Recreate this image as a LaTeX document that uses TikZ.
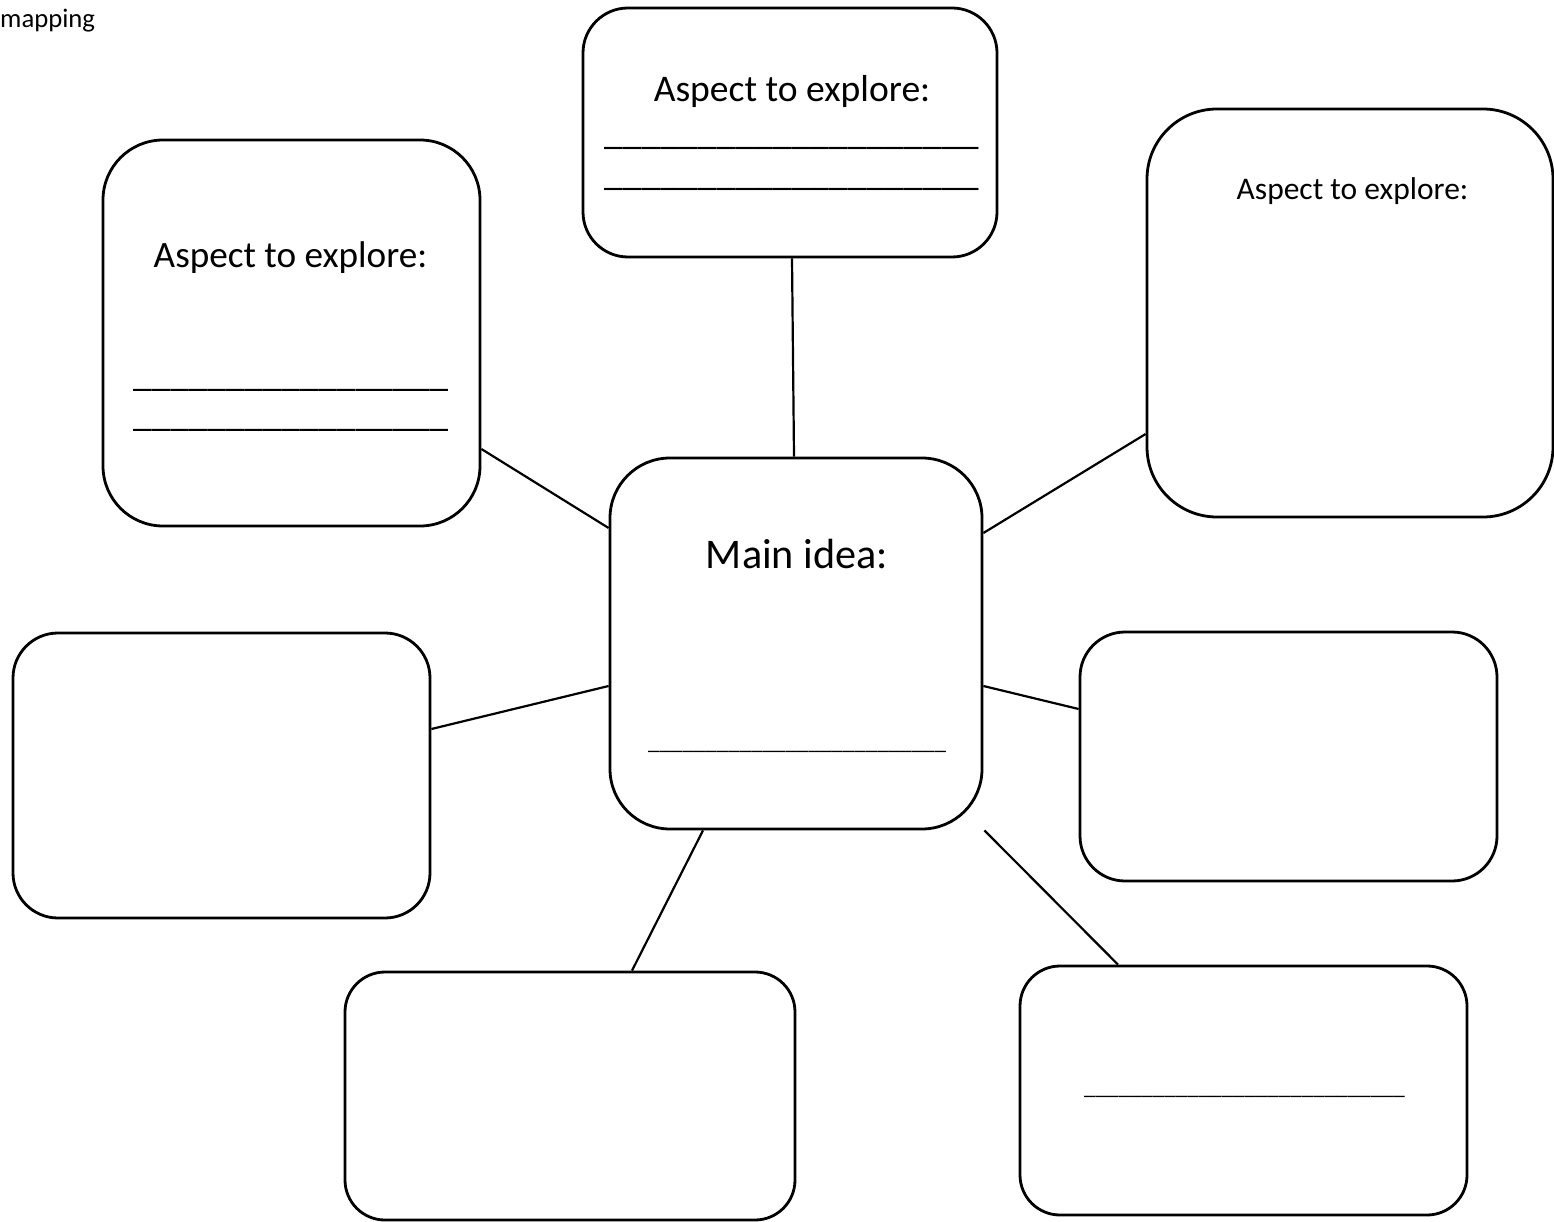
\documentclass[tikz,border=0pt]{standalone}
\usepackage{fontspec}
\setmainfont{Carlito}
\begin{document}
\begin{tikzpicture}[x=1pt,y=-1pt,
  bubble/.style={draw=black,line width=2.8pt,fill=white,inner sep=0pt,
    rectangle},
  link/.style={draw=black,line width=2.2pt},
  txt/.style={inner sep=0pt,anchor=base,text=black},
  txtw/.style={inner sep=0pt,anchor=base west,text=black}]
\fill[white] (0,0) rectangle (1554,1222);
\useasboundingbox (0,0) rectangle (1554,1222);
% boxes
\node[bubble,minimum width=414pt,minimum height=249pt,rounded corners=45pt] (top) at (790,132.5) {};
\node[bubble,minimum width=377pt,minimum height=386pt,rounded corners=60pt] (tl) at (291.5,333) {};
\node[bubble,minimum width=406pt,minimum height=408pt,rounded corners=70pt] (tr) at (1350,313) {};
\node[bubble,minimum width=372pt,minimum height=371pt,rounded corners=60pt] (center) at (796,643.5) {};
\node[bubble,minimum width=417pt,minimum height=285pt,rounded corners=45pt] (left) at (221.5,775.5) {};
\node[bubble,minimum width=417pt,minimum height=249pt,rounded corners=45pt] (right) at (1288.5,756.5) {};
\node[bubble,minimum width=450pt,minimum height=248pt,rounded corners=40pt] (bl) at (570,1096) {};
\node[bubble,minimum width=447pt,minimum height=249pt,rounded corners=40pt] (br) at (1243.5,1090.5) {};
% connectors
\draw[link] ([xshift=2pt]top.south) -- ([xshift=-2pt]center.north);
\draw[link] ([yshift=-116pt]tl.east) -- ([yshift=115.5pt]center.west);
\draw[link] ([yshift=-121pt]tr.west) -- ([yshift=110.5pt]center.east);
\draw[link] ([yshift=46.5pt]left.east) -- ([yshift=-42.5pt]center.west);
\draw[link] ([yshift=47.5pt]right.west) -- ([yshift=-42.5pt]center.east);
\draw[link] ([xshift=62pt]bl.north) -- ([xshift=-93pt]center.south);
\coordinate (cse) at ([xshift=1pt]center.south east);
\draw[link] ([xshift=-125.5pt]br.north) -- (cse);
% texts
\node[txtw,font=\fontsize{26.7}{32}\selectfont] (map) at (0,28) {mapping};
\node[txt,font=\fontsize{37.6}{45}\selectfont] (ttop) at (792,102) {Aspect to explore:};
\node[txtw,font=\fontsize{37.6}{45}\selectfont] (utop1) at (604,145) {\_\_\_\_\_\_\_\_\_\_\_\_\_\_\_\_\_\_\_\_};
\node[txtw,font=\fontsize{37.6}{45}\selectfont] (utop2) at (604,186) {\_\_\_\_\_\_\_\_\_\_\_\_\_\_\_\_\_\_\_\_};
\node[txt,font=\fontsize{37.2}{45}\selectfont] (ttl) at (290.5,268) {Aspect to explore:};
\node[txtw,font=\fontsize{37.2}{45}\selectfont] (utl1) at (133,386) {\_\_\_\_\_\_\_\_\_\_\_\_\_\_\_\_\_};
\node[txtw,font=\fontsize{37.2}{45}\selectfont] (utl2) at (133,426) {\_\_\_\_\_\_\_\_\_\_\_\_\_\_\_\_\_};
\node[txt,font=\fontsize{31.5}{38}\selectfont] (ttr) at (1352.5,200) {Aspect to explore:};
\node[txt,font=\fontsize{42.2}{50}\selectfont] (tmain) at (797,568) {Main idea:};
\node[txtw,font=\fontsize{23}{28}\selectfont] (umain) at (648,749.5) {\_\_\_\_\_\_\_\_\_\_\_\_\_\_\_\_\_\_\_\_\_\_\_\_\_\_};
\node[txtw,font=\fontsize{23}{28}\selectfont] (ubr) at (1084,1094.5) {\_\_\_\_\_\_\_\_\_\_\_\_\_\_\_\_\_\_\_\_\_\_\_\_\_\_\_\_};
\end{tikzpicture}
\end{document}
